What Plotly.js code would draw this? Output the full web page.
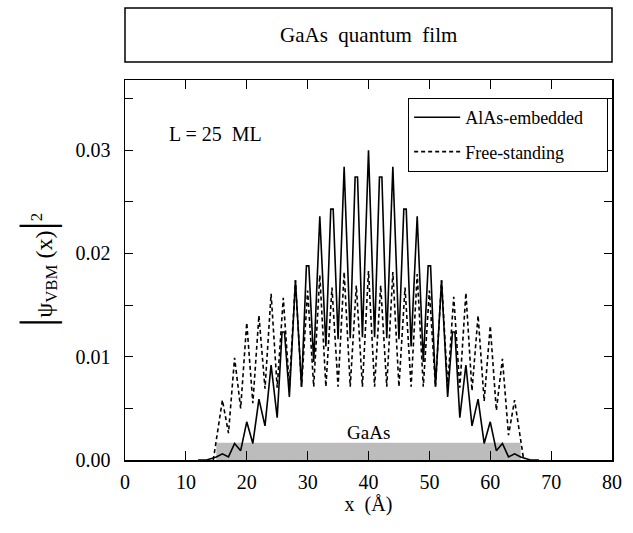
<!DOCTYPE html>
<html>
<head>
<meta charset="utf-8">
<script src="https://cdn.plot.ly/plotly-3.0.1.min.js"></script>
<style>html,body{margin:0;padding:0;background:#fff;}#chart{width:633px;height:533px;}</style>
</head>
<body>
<div id="chart"></div>
<script>
// AlAs-embedded (solid)
const solidX = [12, 13.4, 15, 16, 17, 18, 19, 20, 21, 22, 23, 24, 25, 25.8, 26.2, 27, 28, 29, 29.8, 30.2, 31, 32, 33, 33.8, 34.2, 35, 36, 37, 37.8, 38.2, 39, 40, 41, 41.8, 42.2, 43, 44, 45, 45.8, 46.2, 47, 48, 49, 49.8, 50.2, 51, 52, 53, 53.8, 54.2, 55, 56, 57, 58, 59, 60, 61, 62, 63, 64, 65, 66.6, 68];
const solidY = [0, 0, 0.0003, 0.0006, 0.0003, 0.0016, 0.0009, 0.0037, 0.0016, 0.0059, 0.0033, 0.0092, 0.0041, 0.0124, 0.0124, 0.0061, 0.0174, 0.0071, 0.0188, 0.0188, 0.0095, 0.0236, 0.0110, 0.0243, 0.0243, 0.0117, 0.0284, 0.0118, 0.0274, 0.0274, 0.0119, 0.0300, 0.0119, 0.0274, 0.0274, 0.0118, 0.0284, 0.0117, 0.0243, 0.0243, 0.0110, 0.0236, 0.0095, 0.0188, 0.0188, 0.0071, 0.0174, 0.0061, 0.0124, 0.0124, 0.0041, 0.0092, 0.0033, 0.0059, 0.0016, 0.0037, 0.0009, 0.0016, 0.0003, 0.0006, 0.0003, 0, 0];
// Free-standing (dashed)
const dashX = [14.5, 16, 17, 18, 19, 20, 21, 22, 23, 24, 25, 26, 27, 28, 29, 30, 31, 32, 33, 34, 35, 36, 37, 38, 39, 40, 41, 42, 43, 44, 45, 46, 47, 48, 49, 50, 51, 52, 53, 54, 55, 56, 57, 58, 59, 60, 61, 62, 63, 64, 65.5];
const dashY = [0, 0.0058, 0.0026, 0.0099, 0.0050, 0.0133, 0.0055, 0.0140, 0.0069, 0.0161, 0.0070, 0.0157, 0.0071, 0.0174, 0.0071, 0.0164, 0.0071, 0.0179, 0.0071, 0.0167, 0.0071, 0.0182, 0.0071, 0.0169, 0.0071, 0.0183, 0.0071, 0.0169, 0.0071, 0.0182, 0.0071, 0.0167, 0.0071, 0.0180, 0.0071, 0.0164, 0.0071, 0.0174, 0.0071, 0.0158, 0.0070, 0.0162, 0.0067, 0.0140, 0.0057, 0.0130, 0.0048, 0.0098, 0.0024, 0.0058, 0];
const seriesNames = ['AlAs-embedded', 'Free-standing'];
// GaAs film region
const gaasX = [15, 65];
const gaasTop = 0.00167;
const xTicks = [0, 10, 20, 30, 40, 50, 60, 70, 80];
const yTicks = [0.00, 0.01, 0.02, 0.03];

const FONT = 'Liberation Serif, Times New Roman, serif';
const PAD = '\u00a0\u00a0\u00a0\u00a0';

const traces = [
  {x: solidX, y: solidY, type: 'scatter', mode: 'lines', name: seriesNames[0] + PAD,
   legendgroup: 'a', line: {color: '#000', width: 1.6}},
  {x: dashX, y: dashY, type: 'scatter', mode: 'lines', name: seriesNames[1] + PAD,
   legendgroup: 'b', line: {color: '#000', width: 1.6, dash: '4px,3px'}}
];

const layout = {
  width: 633, height: 533,
  margin: {l: 125, r: 21, t: 80, b: 73},
  paper_bgcolor: '#fff', plot_bgcolor: '#fff',
  font: {family: FONT, size: 18, color: '#000'},
  showlegend: true,
  legend: {x: 0.581, y: 0.953, xanchor: 'left', yanchor: 'top',
           bordercolor: '#000', borderwidth: 1.2, bgcolor: '#fff',
           font: {family: FONT, size: 18}, itemwidth: 46,
           traceorder: 'grouped', tracegroupgap: 8},
  xaxis: {range: [0, 80], tickvals: xTicks, ticktext: xTicks.map(String),
          ticks: 'inside', ticklen: 9, tickwidth: 1.2, tickcolor: '#000',
          showline: true, linecolor: '#000', linewidth: 1.5, mirror: 'ticks',
          showgrid: false, zeroline: false, ticklabelstandoff: 3,
          tickfont: {family: FONT, size: 20},
          title: {text: 'x  (Å)', font: {family: FONT, size: 20}, standoff: 2}},
  yaxis: {range: [0, 0.0368], tickvals: yTicks, ticktext: yTicks.map(v => v.toFixed(2)),
          ticks: 'inside', ticklen: 8, tickwidth: 1.2, tickcolor: '#000',
          minor: {dtick: 0.005, ticks: 'inside', ticklen: 8, tickwidth: 1.2, tickcolor: '#000', showgrid: false},
          showline: true, linecolor: '#000', linewidth: 1.5, mirror: 'ticks',
          showgrid: false, zeroline: false, ticklabelstandoff: 9,
          tickfont: {family: FONT, size: 20},
          title: {text: '<span style="font-size:46px">|</span>ψ<sub>VBM</sub> (x)<span style="font-size:46px">|</span><sup>2</sup>',
                  font: {family: FONT, size: 24}, standoff: 16}},
  shapes: [
    {type: 'rect', xref: 'x', yref: 'y', x0: gaasX[0], x1: gaasX[1], y0: 0, y1: gaasTop,
     fillcolor: '#bcbcbc', line: {width: 0}, layer: 'below'},
    {type: 'rect', xref: 'paper', yref: 'paper', x0: 0, x1: 1, y0: 1.0474, y1: 1.1895,
     line: {color: '#000', width: 1.5}, fillcolor: 'rgba(0,0,0,0)'}
  ],
  annotations: [
    {text: 'GaAs  quantum  film', xref: 'paper', yref: 'paper', x: 0.5, y: 1.118,
     xanchor: 'center', yanchor: 'middle', showarrow: false, font: {family: FONT, size: 21}},
    {text: 'L = 25  ML', xref: 'x', yref: 'y', x: 14.8, y: 0.0316,
     xanchor: 'center', yanchor: 'middle', showarrow: false, font: {family: FONT, size: 20}},
    {text: 'GaAs', xref: 'x', yref: 'y', x: 40, y: 0.00268,
     xanchor: 'center', yanchor: 'middle', showarrow: false, font: {family: FONT, size: 19}}
  ]
};

Plotly.newPlot('chart', traces, layout, {displayModeBar: false, staticPlot: true});
</script>
</body>
</html>
